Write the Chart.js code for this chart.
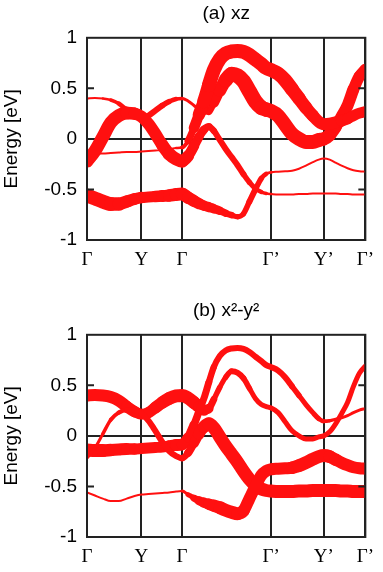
<!DOCTYPE html>
<html>
<head>
<meta charset="utf-8">
<script src="https://cdn.jsdelivr.net/npm/chart.js@4.4.0/dist/chart.umd.min.js"></script>
<style>
  html, body { margin: 0; padding: 0; background: #fff; overflow: hidden; }
  .panel { position: relative; width: 383px; }
  #panelA { height: 297px; }
  #panelB { height: 275px; }
</style>
</head>
<body>
<div class="panel" id="panelA"><canvas id="chartA"></canvas></div>
<div class="panel" id="panelB"><canvas id="chartB"></canvas></div>
<script>
// k-path (high-symmetry points) and energy ticks
var kTicks = [0, 0.55, 0.96, 1.86, 2.39, 2.81];
var kLabels = ['Γ', 'Y', 'Γ', 'Γ’', 'Y’', 'Γ’'];
var eTicks = [-1, -0.5, 0, 0.5, 1];
var eLabels = ['-1', '-0.5', '0', '0.5', '1'];

// k points along the path
var kPos = [0, 0.08, 0.16, 0.24, 0.32, 0.40, 0.48, 0.55, 0.62, 0.69, 0.76, 0.83, 0.90, 0.96,
  1.02, 1.08, 1.13, 1.18, 1.23, 1.28, 1.34, 1.40, 1.46, 1.52, 1.58, 1.64, 1.70, 1.76, 1.81,
  1.86, 1.93, 2.00, 2.07, 2.14, 2.21, 2.28, 2.34, 2.39, 2.45, 2.51, 2.57, 2.63, 2.69, 2.75, 2.81];

// band energies [eV]
var bandA = [-0.56, -0.59, -0.62, -0.645, -0.645, -0.62, -0.595, -0.58, -0.575, -0.57, -0.565, -0.56, -0.55, -0.545,
  -0.58, -0.615, -0.64, -0.66, -0.675, -0.69, -0.71, -0.735, -0.755, -0.77, -0.74, -0.62, -0.50, -0.39, -0.345,
  -0.33, -0.325, -0.32, -0.315, -0.295, -0.265, -0.23, -0.205, -0.195, -0.205, -0.235, -0.265, -0.29, -0.31, -0.32, -0.325];
var bandU = [-0.22, -0.12, 0.02, 0.16, 0.23, 0.255, 0.25, 0.22, 0.15, 0.05, -0.06, -0.15, -0.20, -0.22,
  -0.17, -0.07, 0.02, 0.09, 0.12, 0.08, -0.01, -0.10, -0.18, -0.26, -0.35, -0.43, -0.49, -0.525, -0.54,
  -0.545, -0.55, -0.55, -0.55, -0.545, -0.545, -0.54, -0.54, -0.54, -0.54, -0.54, -0.545, -0.545, -0.55, -0.55, -0.55];
var bandF = [-0.14, -0.145, -0.145, -0.14, -0.135, -0.13, -0.13, -0.125, -0.12, -0.115, -0.11, -0.10, -0.09, -0.085,
  -0.02, 0.11, 0.24, 0.37, 0.53, 0.68, 0.79, 0.845, 0.865, 0.87, 0.86, 0.83, 0.785, 0.74, 0.70,
  0.68, 0.645, 0.58, 0.49, 0.40, 0.31, 0.23, 0.17, 0.145, 0.15, 0.165, 0.18, 0.20, 0.23, 0.255, 0.27];
var bandD = [0.40, 0.405, 0.40, 0.385, 0.35, 0.29, 0.24, 0.215, 0.23, 0.28, 0.33, 0.37, 0.395, 0.40,
  0.375, 0.33, 0.29, 0.255, 0.27, 0.36, 0.48, 0.58, 0.64, 0.625, 0.57, 0.47, 0.37, 0.31, 0.29,
  0.275, 0.23, 0.14, 0.05, 0.0, -0.03, -0.03, -0.01, 0.0, 0.04, 0.12, 0.22, 0.33, 0.49, 0.62, 0.69];

// orbital weights (arbitrary units), xz
var wA_xz = [14, 14, 14, 14, 13, 12, 12, 11, 11, 11, 12, 12, 13, 13,
  12, 12, 11, 10, 10, 9, 8, 7, 6, 5, 5, 6, 6, 5, 4,
  2, 2, 2, 2, 2, 2, 2, 2, 2, 2, 2, 2, 2, 2, 2, 2];
var wU_xz = [13, 13, 13, 13, 13, 13, 12, 12, 12, 12, 12, 13, 13, 13,
  11, 10, 9, 8, 7, 6, 6, 6, 6, 6, 6, 5, 5, 4, 3,
  2, 2, 2, 2, 2, 2, 2, 2, 2, 2, 2, 2, 2, 2, 2, 2];
var wF_xz = [2, 2, 2, 2, 2, 2, 2, 2, 2, 2, 2, 2, 2, 3,
  5, 9, 12, 13, 14, 14, 14, 14, 14, 14, 14, 14, 14, 14, 14,
  14, 14, 14, 14, 13, 13, 12, 12, 12, 12, 12, 12, 11, 11, 11, 11];
var wD_xz = [2, 2, 2, 3, 4, 5, 6, 6, 6, 6, 6, 5, 4, 3,
  3, 3, 3, 3, 5, 9, 12, 14, 15, 15, 15, 15, 15, 15, 14,
  14, 14, 14, 14, 14, 14, 14, 14, 13, 13, 12, 12, 12, 12, 11, 11];

// orbital weights (arbitrary units), x2-y2
var wA_x2 = [2, 2, 2, 2, 2, 2, 2, 2, 2, 2, 2, 2, 2, 2,
  4, 6, 8, 10, 11, 12, 13, 13, 13, 13, 12, 12, 12, 12, 12,
  12, 12, 12, 12, 13, 13, 13, 13, 13, 13, 12, 12, 12, 12, 12, 12];
var wU_x2 = [3, 3, 3, 4, 4, 5, 5, 6, 6, 6, 6, 6, 6, 6,
  7, 9, 11, 12, 13, 13, 13, 13, 13, 13, 13, 13, 13, 13, 13,
  13, 13, 13, 13, 13, 13, 13, 13, 13, 13, 13, 13, 13, 13, 13, 13];
var wF_x2 = [13, 13, 13, 12, 12, 12, 11, 11, 11, 11, 11, 11, 12, 12,
  10, 8, 7, 7, 7, 6, 6, 6, 6, 6, 6, 6, 6, 6, 6,
  6, 6, 6, 6, 5, 5, 5, 5, 4, 3, 3, 3, 3, 3, 3, 3];
var wD_x2 = [12, 12, 12, 12, 12, 12, 11, 11, 11, 12, 12, 13, 13, 13,
  13, 13, 12, 11, 8, 6, 5, 5, 6, 6, 6, 5, 5, 5, 5,
  5, 5, 5, 5, 5, 5, 5, 5, 5, 5, 5, 5, 5, 5, 5, 5];

var RED = '#ff1010';
var LINE = '#222';
var FAT_SCALE = 1.0;
var MIN_WIDTH = 1.8;
var SANS = "'Liberation Sans', Arial, sans-serif";
var SERIF = "'Liberation Serif', 'Times New Roman', serif";

// marco del gráfico y marcas interiores en +-0.5
var framePlugin = {
    id: 'frame',
    afterDraw: function (chart) {
        var ctx = chart.ctx;
        var a = chart.chartArea;
        var y = chart.scales.y;
        ctx.save();
        ctx.strokeStyle = LINE;
        ctx.lineWidth = 2;
        ctx.strokeRect(a.left, a.top, a.right - a.left, a.bottom - a.top);
        [-0.5, 0.5].forEach(function (v) {
            var py = y.getPixelForValue(v);
            ctx.beginPath();
            ctx.moveTo(a.left, py); ctx.lineTo(a.left + 7, py);
            ctx.moveTo(a.right - 7, py); ctx.lineTo(a.right, py);
            ctx.stroke();
        });
        ctx.restore();
    }
};

function bandDataset(energies, weights) {
    return {
        data: kPos.map(function (k, i) { return { x: k, y: energies[i] }; }),
        borderColor: RED,
        borderWidth: 2,
        pointRadius: 0,
        cubicInterpolationMode: 'monotone',
        borderCapStyle: 'round',
        borderJoinStyle: 'round',
        segment: {
            borderWidth: function (c) {
                var w = (weights[c.p0DataIndex] + weights[c.p1DataIndex]) / 2;
                return Math.max(MIN_WIDTH, FAT_SCALE * w);
            }
        }
    };
}

function makeChart(id, titleText, weights, xAxisHeight) {
    var ctx = document.getElementById(id).getContext('2d');
    return new Chart(ctx, {
        type: 'line',
        data: {
            datasets: [
                bandDataset(bandA, weights[0]),
                bandDataset(bandU, weights[1]),
                bandDataset(bandF, weights[2]),
                bandDataset(bandD, weights[3])
            ]
        },
        options: {
            responsive: true,
            maintainAspectRatio: false,
            animation: false,
            layout: { padding: { left: 0, right: 15, top: 0, bottom: 0 } },
            plugins: {
                legend: { display: false },
                tooltip: { enabled: false },
                title: {
                    display: true,
                    text: titleText,
                    fullSize: false,
                    color: '#000',
                    font: { family: SANS, size: 19, weight: 'normal' },
                    padding: { top: 2, bottom: 13 }
                }
            },
            scales: {
                x: {
                    type: 'linear',
                    min: 0,
                    max: 2.81,
                    z: 1,
                    afterBuildTicks: function (s) { s.ticks = kTicks.map(function (v) { return { value: v }; }); },
                    afterFit: function (s) { s.height = xAxisHeight; },
                    ticks: {
                        autoSkip: false,
                        maxRotation: 0,
                        padding: 9,
                        color: '#000',
                        font: { family: SERIF, size: 19 },
                        callback: function (v, i) { return kLabels[i]; }
                    },
                    grid: { color: LINE, lineWidth: 2, drawTicks: false },
                    border: { display: false }
                },
                y: {
                    min: -1,
                    max: 1,
                    z: 1,
                    afterBuildTicks: function (s) { s.ticks = eTicks.map(function (v) { return { value: v }; }); },
                    afterFit: function (s) { s.width = 87; },
                    ticks: {
                        padding: 10,
                        color: '#000',
                        font: { family: SANS, size: 19 },
                        callback: function (v, i) { return eLabels[i]; }
                    },
                    grid: {
                        color: function (c) { return c.tick && c.tick.value === 0 ? LINE : 'rgba(0,0,0,0)'; },
                        lineWidth: 2,
                        drawTicks: false
                    },
                    border: { display: false },
                    title: {
                        display: true,
                        text: 'Energy [eV]',
                        color: '#000',
                        font: { family: SANS, size: 19 },
                        padding: 0
                    }
                }
            }
        },
        plugins: [framePlugin]
    });
}

makeChart('chartA', '(a) xz', [wA_xz, wU_xz, wF_xz, wD_xz], 57);
makeChart('chartB', '(b) x²-y²', [wA_x2, wU_x2, wF_x2, wD_x2], 35);
</script>
</body>
</html>
